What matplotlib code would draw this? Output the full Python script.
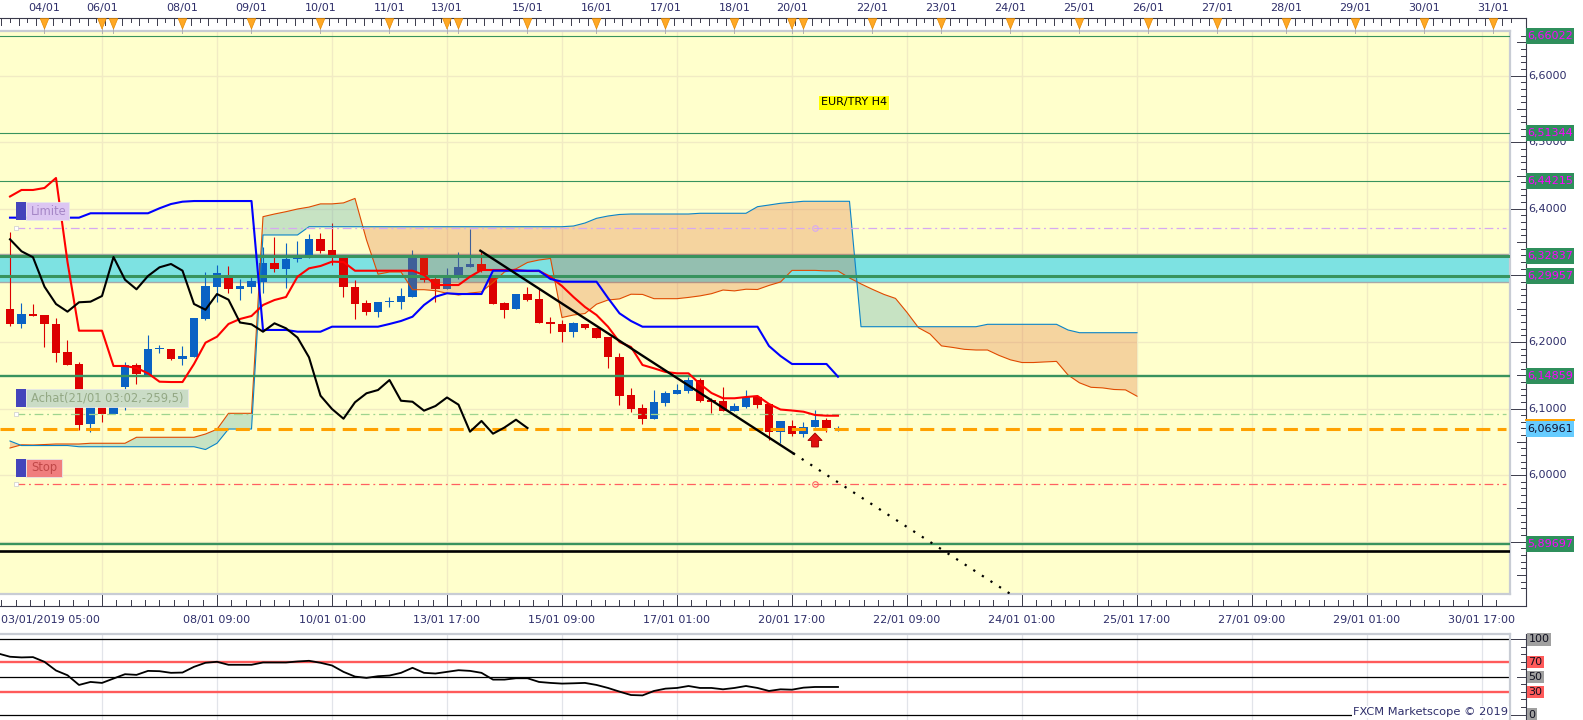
import numpy as np
import matplotlib
matplotlib.use("Agg")
import matplotlib.pyplot as plt
from matplotlib.transforms import Affine2D, blended_transform_factory
from matplotlib.patches import Rectangle, Polygon
from matplotlib.lines import Line2D

plt.rcParams['font.family'] = ['DejaVu Sans']

# ---------------- data (EUR/TRY H4) ----------------
opens = [6.2495, 6.2270, 6.2415, 6.2405, 6.2265, 6.1845, 6.1669, 6.0763, 6.1028, 6.0918,
         6.1328, 6.1654, 6.1504, 6.1887, 6.1894, 6.1739, 6.1779, 6.2345, 6.2830, 6.2981,
         6.2800, 6.2830, 6.2906, 6.3181, 6.3096, 6.3241, 6.3272, 6.3542, 6.3381, 6.3276,
         6.2830, 6.2580, 6.2455, 6.2596, 6.2605, 6.2680, 6.3276, 6.2941, 6.2800, 6.2971,
         6.3121, 6.3171, 6.2983, 6.2580, 6.2490, 6.2720, 6.2641, 6.2295, 6.2265, 6.2154,
         6.2265, 6.2205, 6.2079, 6.1774, 6.1203, 6.1008, 6.0847, 6.1088, 6.1218, 6.1268,
         6.1428, 6.1128, 6.1113, 6.0968, 6.1028, 6.1178, 6.1064, 6.0652, 6.0737, 6.0617,
         6.0715, 6.0832, 6.0690]
highs = [6.3656, 6.2580, 6.2570, 6.2405, 6.2355, 6.2029, 6.1704, 6.1028, 6.1028, 6.1028,
         6.1704, 6.1679, 6.2105, 6.1954, 6.1900, 6.1939, 6.2355, 6.3056, 6.3156, 6.3141,
         6.2941, 6.2981, 6.3431, 6.3581, 6.3482, 6.3524, 6.3626, 6.3637, 6.3782, 6.3276,
         6.2931, 6.2630, 6.2605, 6.2675, 6.2806, 6.3381, 6.3276, 6.2971, 6.3106, 6.3356,
         6.3692, 6.3356, 6.2983, 6.2605, 6.2720, 6.2830, 6.2791, 6.2370, 6.2330, 6.2305,
         6.2270, 6.2205, 6.2079, 6.1829, 6.1303, 6.1068, 6.1278, 6.1263, 6.1364, 6.1478,
         6.1454, 6.1153, 6.1328, 6.1083, 6.1278, 6.1203, 6.1064, 6.0813, 6.0835, 6.0797,
         6.0978, 6.0865, 6.0730]
lows = [6.2244, 6.2214, 6.2390, 6.1920, 6.1704, 6.1654, 6.0677, 6.0652, 6.0803, 6.0918,
        6.0978, 6.1364, 6.1504, 6.1829, 6.1735, 6.1654, 6.1779, 6.2330, 6.2605, 6.2731,
        6.2630, 6.2731, 6.2731, 6.3051, 6.2806, 6.3201, 6.3261, 6.3336, 6.3156, 6.2671,
        6.2345, 6.2405, 6.2370, 6.2518, 6.2490, 6.2680, 6.2901, 6.2605, 6.2800, 6.2941,
        6.3121, 6.3056, 6.2570, 6.2355, 6.2490, 6.2620, 6.2292, 6.2130, 6.2004, 6.2070,
        6.2200, 6.2060, 6.1604, 6.1053, 6.0953, 6.0763, 6.0847, 6.1043, 6.1218, 6.1228,
        6.1102, 6.0928, 6.0968, 6.0968, 6.1003, 6.1008, 6.0532, 6.0478, 6.0592, 6.0577,
        6.0715, 6.0640, 6.0655]
closes = [6.2265, 6.2420, 6.2390, 6.2265, 6.1839, 6.1659, 6.0753, 6.1028, 6.0914, 6.1028,
          6.1654, 6.1514, 6.1894, 6.1902, 6.1739, 6.1789, 6.2355, 6.2841, 6.3031, 6.2795,
          6.2841, 6.2916, 6.3181, 6.3091, 6.3246, 6.3281, 6.3542, 6.3362, 6.3272, 6.2830,
          6.2570, 6.2455, 6.2596, 6.2605, 6.2690, 6.3276, 6.2935, 6.2791, 6.2991, 6.3121,
          6.3171, 6.3071, 6.2570, 6.2484, 6.2720, 6.2635, 6.2292, 6.2265, 6.2154, 6.2280,
          6.2205, 6.2066, 6.1769, 6.1193, 6.0993, 6.0847, 6.1094, 6.1229, 6.1278, 6.1428,
          6.1117, 6.1102, 6.0968, 6.1038, 6.1166, 6.1058, 6.0652, 6.0813, 6.0622, 6.0715,
          6.0832, 6.0707, 6.06961]

tenkan = [6.4185, 6.4283, 6.4283, 6.4313, 6.4463, 6.3201, 6.2169, 6.2169, 6.2169, 6.1639,
          6.1639, 6.1609, 6.1529, 6.1403, 6.1398, 6.1398, 6.1669, 6.1989, 6.2079, 6.2270,
          6.2345, 6.2390, 6.2555, 6.2630, 6.2675, 6.2980, 6.3106, 6.3141, 6.3206, 6.3201,
          6.3070, 6.3070, 6.3070, 6.3070, 6.3070, 6.3070, 6.3006, 6.2855, 6.2855, 6.2855,
          6.2980, 6.3081, 6.3081, 6.3081, 6.3081, 6.3066, 6.3066, 6.2976, 6.2840, 6.2675,
          6.2525, 6.2405, 6.2229, 6.1999, 6.1924, 6.1654, 6.1604, 6.1549, 6.1529, 6.1529,
          6.1368, 6.1233, 6.1154, 6.1154, 6.1173, 6.1188, 6.1068, 6.0985, 6.0970, 6.0952,
          6.0903, 6.0892, 6.0892]
kijun = [6.3867, 6.3867, 6.3867, 6.3867, 6.3867, 6.3867, 6.3867, 6.3933, 6.3933, 6.3933,
         6.3933, 6.3933, 6.3933, 6.4008, 6.4072, 6.4107, 6.4117, 6.4117, 6.4117, 6.4117,
         6.4117, 6.4117, 6.2180, 6.2180, 6.2180, 6.2154, 6.2154, 6.2154, 6.2229, 6.2229,
         6.2229, 6.2229, 6.2229, 6.2270, 6.2315, 6.2379, 6.2555, 6.2680, 6.2731, 6.2720,
         6.2720, 6.2720, 6.3070, 6.3070, 6.3070, 6.3070, 6.3070, 6.2946, 6.2905, 6.2905,
         6.2905, 6.2905, 6.2660, 6.2430, 6.2315, 6.2229, 6.2229, 6.2229, 6.2229, 6.2229,
         6.2229, 6.2229, 6.2229, 6.2229, 6.2229, 6.2229, 6.1939, 6.1789, 6.1669, 6.1669,
         6.1669, 6.1669, 6.1478]
senkou_a = [6.0407, 6.0455, 6.0452, 6.0459, 6.0467, 6.0467, 6.0467, 6.0478, 6.0478, 6.0478,
            6.0478, 6.0568, 6.0568, 6.0568, 6.0568, 6.0568, 6.0568, 6.0617, 6.0688, 6.0928,
            6.0928, 6.0928, 6.3882, 6.3922, 6.3957, 6.3997, 6.4026, 6.4074, 6.4074, 6.4089,
            6.4156, 6.3533, 6.3018, 6.3051, 6.3051, 6.2785, 6.2785, 6.2770, 6.2731, 6.2705,
            6.2735, 6.2752, 6.2893, 6.3052, 6.3098, 6.3194, 6.3231, 6.3254, 6.2367, 6.2405,
            6.2427, 6.2567, 6.2630, 6.2647, 6.2717, 6.2714, 6.2650, 6.2650, 6.2650, 6.2669,
            6.2692, 6.2725, 6.2780, 6.2767, 6.2792, 6.2788, 6.2849, 6.2901, 6.3075, 6.3075,
            6.3075, 6.3067, 6.3067, 6.2961, 6.2872, 6.2790, 6.2714, 6.2654, 6.2444, 6.2214,
            6.2120, 6.1941, 6.1917, 6.1889, 6.1879, 6.1879, 6.1798, 6.1731, 6.1691, 6.1691,
            6.1700, 6.1708, 6.1504, 6.1386, 6.1319, 6.1310, 6.1286, 6.1280, 6.1185]
senkou_b = [6.0512, 6.0444, 6.0444, 6.0444, 6.0444, 6.0444, 6.0426, 6.0426, 6.0426, 6.0426,
            6.0426, 6.0426, 6.0426, 6.0426, 6.0426, 6.0426, 6.0426, 6.0384, 6.0478, 6.0692,
            6.0692, 6.0692, 6.3607, 6.3607, 6.3607, 6.3607, 6.3731, 6.3731, 6.3731, 6.3731,
            6.3731, 6.3731, 6.3731, 6.3731, 6.3731, 6.3731, 6.3731, 6.3731, 6.3731, 6.3731,
            6.3731, 6.3731, 6.3731, 6.3731, 6.3731, 6.3731, 6.3731, 6.3731, 6.3731, 6.3742,
            6.3787, 6.3857, 6.3892, 6.3915, 6.3922, 6.3922, 6.3922, 6.3922, 6.3922, 6.3922,
            6.3933, 6.3933, 6.3933, 6.3933, 6.3933, 6.4032, 6.4057, 6.4083, 6.4098, 6.4113,
            6.4113, 6.4113, 6.4113, 6.4113, 6.2229, 6.2229, 6.2229, 6.2229, 6.2229, 6.2229,
            6.2229, 6.2229, 6.2229, 6.2229, 6.2229, 6.2265, 6.2265, 6.2265, 6.2265, 6.2265,
            6.2265, 6.2265, 6.2180, 6.2139, 6.2139, 6.2139, 6.2139, 6.2139, 6.2139]
chikou_shift = 26

rsi_start = -1
rsi = [81.0, 76.8, 75.9, 76.3, 70.0, 58.5, 52.2, 39.3, 43.3, 42.0, 47.8,
       53.6, 52.7, 58.0, 57.6, 55.4, 55.8, 63.4, 68.8, 70.1, 66.1,
       66.1, 66.1, 69.2, 69.2, 69.2, 70.5, 71.4, 68.8, 65.2, 56.7,
       50.4, 48.7, 50.9, 51.8, 55.4, 62.1, 55.4, 54.5, 56.7, 58.9,
       58.0, 55.4, 46.4, 46.4, 48.2, 48.2, 43.3, 42.0, 41.1, 41.5,
       42.0, 39.3, 35.3, 30.4, 25.9, 25.4, 31.3, 34.4, 35.3, 37.9,
       35.3, 35.3, 33.5, 35.3, 37.9, 35.3, 31.3, 33.5, 33.0, 35.7,
       36.6, 36.6, 36.6]
rsi_levels = [100, 70, 50, 30, 0]

green_levels = [6.66022, 6.51344, 6.44215, 6.32837, 6.29957, 6.14859, 5.89697]
green_labels = ['6,66022', '6,51344', '6,44215', '6,32837', '6,29957', '6,14859', '5,89697']
black_level = 5.8864
zone_low, zone_high = 6.2905, 6.3321
current_price = 6.06961
current_label = '6,06961'
limit_price, entry_price, stop_price = 6.3707, 6.0913, 5.9862
order_bar = 70
entry_text = 'Achat(21/01 03:02,-259,5)'
trend_bars = [40.9, 68.1]
trend_prices = [6.3371, 6.0328]

price_ticks = [5.9, 6.0, 6.1, 6.2, 6.3, 6.4, 6.5, 6.6]
price_tick_labels = ['5,9000', '6,0000', '6,1000', '6,2000', '6,3000', '6,4000', '6,5000', '6,6000']

day_bars = [3, 8, 15, 21, 27, 33, 38, 45, 51, 57, 63, 68, 75, 81, 87, 93, 99, 105, 111, 117, 123, 129]
day_labels = ['04/01', '06/01', '08/01', '09/01', '10/01', '11/01', '13/01', '15/01', '16/01',
              '17/01', '18/01', '20/01', '22/01', '23/01', '24/01', '25/01', '26/01', '27/01',
              '28/01', '29/01', '30/01', '31/01']
extra_day_bars = [9, 39, 69]

time_bars = [18, 28, 38, 48, 58, 68, 78, 88, 98, 108, 118, 128]
time_labels = ['08/01 09:00', '10/01 01:00', '13/01 17:00', '15/01 09:00', '17/01 01:00',
               '20/01 17:00', '22/01 09:00', '24/01 01:00', '25/01 17:00', '27/01 09:00',
               '29/01 01:00', '30/01 17:00']
first_time_label = '03/01/2019 05:00'

# ---------------- layout ----------------
W, H = 1583, 720
P0, S = 6.71368, 0.0015022       # price at pixel row 0, price per pixel
BAR0, BARW = 10.0, 11.5          # pixel x of bar 0, pixels per bar
MAIN_TOP, MAIN_BOT, PANEL_R = 31, 594, 1510
AXIS_X = 1525.7
TOP_AX_Y, BOT_AX_Y = 18.3, 606
RSI_TOP = 634

def price_at(y):
    return P0 - S * y

NAVY = '#2E2E6A'
RED = '#DC0000'
BLUE = '#0A62C4'
GREEN_LINE = '#38935E'
GRID = '#F1EBC4'

fig = plt.figure(figsize=(W / 100, H / 100), dpi=100)
fig.patch.set_facecolor('white')
PX = Affine2D().scale(1, -1).translate(0, H)

ax = fig.add_axes([0, 1 - MAIN_BOT / H, PANEL_R / W, (MAIN_BOT - MAIN_TOP) / H])
xlim = (-BAR0 / BARW, (PANEL_R - BAR0) / BARW)
ax.set_xlim(*xlim)
ax.set_ylim(price_at(MAIN_BOT), price_at(MAIN_TOP))
ax.set_facecolor('#FFFFCC')
ax.set_xticks([])
ax.set_yticks([])
ax.spines['left'].set_visible(False)
for s in ['top', 'right', 'bottom']:
    ax.spines[s].set_color('#C8CCD4')
    ax.spines[s].set_linewidth(1.6)

XB_YP = blended_transform_factory(ax.transData, PX)
XP_YD = blended_transform_factory(PX, ax.transData)

major_bars = np.arange(8, 131, 10)
for b in major_bars:
    ax.axvline(b, color=GRID, lw=1.0, zorder=0.5)
for p in price_ticks:
    ax.axhline(p, color=GRID, lw=1.0, zorder=0.5)

# resistance zone
ax.axhspan(zone_low, zone_high, color='#7DE2E2', lw=0, zorder=1)
ax.axhline(zone_low, color='#A8A8A8', lw=1.0, zorder=1.1)
ax.axhline(zone_high, color='#A8A8A8', lw=1.0, zorder=1.1)

# candles
o = np.array(opens); c = np.array(closes); h = np.array(highs); l = np.array(lows)
xb = np.arange(len(o))
cols = np.where(c >= o, BLUE, RED)
ax.vlines(xb, l, h, colors=cols, lw=0.8, zorder=2)
body_lo = np.minimum(o, c)
body_h = np.maximum(np.abs(c - o), 0.0012)
ax.bar(xb, body_h, width=0.7, bottom=body_lo, color=cols, lw=0, zorder=2.1)

# ichimoku cloud
xa = np.arange(len(senkou_a))
A = np.array(senkou_a); B = np.array(senkou_b)
ax.fill_between(xa, A, B, where=A >= B, interpolate=True, color=(35/255, 147/255, 172/255),
                alpha=0.25, lw=0, zorder=3)
ax.fill_between(xa, A, B, where=A < B, interpolate=True, color=(219/255, 87/255, 28/255),
                alpha=0.25, lw=0, zorder=3)
ax.plot(xa, A, color='#E04A00', lw=0.8, zorder=3.5)
ax.plot(xa, B, color='#0A84C8', lw=0.8, zorder=3.5)

# horizontal levels
green_widths = [0.8, 0.8, 0.8, 2.2, 2.2, 1.7, 1.7]
for lv, lw in zip(green_levels, green_widths):
    ax.axhline(lv, color=GREEN_LINE, lw=lw, zorder=4)
ax.axhline(black_level, color='black', lw=1.9, zorder=4)

# order lines
x_start = (16 - BAR0) / BARW
x_end = (1506 - BAR0) / BARW
ax.plot([x_start, x_end], [limit_price] * 2, color='#D6A8F2', lw=0.9,
        dashes=(7, 3, 1.5, 3), zorder=4)
ax.plot([x_start, x_end], [entry_price] * 2, color='#9ED48E', lw=0.9,
        dashes=(7, 3, 1.5, 3), zorder=4)
ax.plot([x_start, x_end], [stop_price] * 2, color='#FF6060', lw=0.9,
        dashes=(7, 3, 1.5, 3), zorder=4)
ax.plot([order_bar], [limit_price], 'o', mfc='none', mec='#D6A8F2', ms=4, mew=0.8, zorder=4)
ax.plot([order_bar], [stop_price], 'o', mfc='none', mec='#FF6060', ms=4, mew=0.8, zorder=4)
for pr in [limit_price, entry_price, stop_price]:
    ax.plot([x_start], [pr], 's', mfc='white', mec='#CCCCCC', ms=3, mew=0.5, zorder=4.2)

# current price
ax.plot([xlim[0], x_end], [current_price] * 2, color='#FFA000', lw=2.2,
        dashes=(4.6, 2.4), zorder=4.5)

# ichimoku lines
ax.plot(xb, tenkan, color='#FF0000', lw=1.5, zorder=5)
ax.plot(xb, kijun, color='#0000FF', lw=1.5, zorder=5)
chik = closes[chikou_shift:len(closes) - 1]
ax.plot(np.arange(len(chik)), chik, color='black', lw=1.5, zorder=5)

# trend line + extension
slope = (trend_prices[1] - trend_prices[0]) / (trend_bars[1] - trend_bars[0])
ax.plot(trend_bars, trend_prices, color='black', lw=1.7, zorder=6)
ext_b = trend_bars[1] + 40
ax.plot([trend_bars[1], ext_b], [trend_prices[1], trend_prices[1] + slope * 40],
        color='black', lw=1.6, dashes=(1.0, 3.6), zorder=6)

# buy arrow under order bar
tip = lows[order_bar] - 5.5 * S
hb, sb = tip - 7.5 * S, tip - 14 * S
arrow = Polygon([[order_bar, tip], [order_bar + 0.62, hb], [order_bar + 0.3, hb],
                 [order_bar + 0.3, sb], [order_bar - 0.3, sb], [order_bar - 0.3, hb],
                 [order_bar - 0.62, hb]], closed=True, fc='#E01010', ec='#A00000',
                lw=0.6, zorder=7)
ax.add_patch(arrow)

# ---- left order labels ----
def order_label(y0, text, box_fc, text_col, width):
    fig.add_artist(Rectangle((16, y0), 10, 18, transform=PX, fc='#4444BB', ec='none', zorder=8))
    fig.add_artist(Rectangle((26, y0), width, 18, transform=PX, fc=box_fc, ec='#E8E8E8',
                             lw=0.6, zorder=8))
    fig.text(31, y0 + 9.5, text, transform=PX, ha='left', va='center', fontsize=8.3,
             color=text_col, zorder=9)

order_label(202, 'Limite', '#DCC6F2', '#A586C6', 43)
order_label(388.5, entry_text, '#CADCC6', '#93A884', 162)
order_label(458.5, 'Stop', '#F07E7E', '#C04848', 36)

fig.text(854, 102.5, 'EUR/TRY H4', transform=PX, ha='center', va='center', fontsize=8,
         color='black', zorder=9,
         bbox=dict(boxstyle='square,pad=0.18', fc='#FFFF00', ec='none'))

# ---- axes frame lines ----
AX_COL = '#3A3A4A'
fig.add_artist(Line2D([0, AXIS_X], [TOP_AX_Y, TOP_AX_Y], transform=PX, color=AX_COL, lw=0.8, zorder=5))
fig.add_artist(Line2D([0, AXIS_X], [BOT_AX_Y, BOT_AX_Y], transform=PX, color=AX_COL, lw=0.8, zorder=5))
fig.add_artist(Line2D([AXIS_X, AXIS_X], [TOP_AX_Y, BOT_AX_Y], transform=PX, color=AX_COL, lw=0.8, zorder=5))

# top date axis
for k, t in enumerate(np.arange(-0.75, 131, 0.75)):
    ln = 6.5 if k % 2 == 0 else 3.5
    fig.add_artist(Line2D([t, t], [TOP_AX_Y, TOP_AX_Y + ln], transform=XB_YP,
                          color=AX_COL, lw=0.7, zorder=5))
for b in day_bars + extra_day_bars:
    fig.add_artist(Line2D([b, b], [28, 33], transform=XB_YP, color='#B0B0B0', lw=0.7, zorder=5))
    fig.add_artist(Polygon([[b - 0.37, TOP_AX_Y + 0.3], [b + 0.37, TOP_AX_Y + 0.3], [b, 29]],
                           closed=True, transform=XB_YP, fc='#FFA824', ec='#E58A00',
                           lw=0.5, zorder=6))
for b, s in zip(day_bars, day_labels):
    fig.text(b, 8.5, s, transform=XB_YP, ha='center', va='center', fontsize=8,
             color=NAVY, zorder=6)

# bottom time axis
for t in np.arange(-0.75, 130.5, 1.25):
    if abs((t - 8) % 10) < 1e-6:
        continue
    fig.add_artist(Line2D([t, t], [BOT_AX_Y - 6, BOT_AX_Y], transform=XB_YP,
                          color=AX_COL, lw=0.7, zorder=5))
for b in major_bars:
    fig.add_artist(Line2D([b, b], [BOT_AX_Y - 11, BOT_AX_Y], transform=XB_YP,
                          color=AX_COL, lw=0.7, zorder=5))
for b, s in zip(time_bars, time_labels):
    fig.text(b, 620, s, transform=XB_YP, ha='center', va='center', fontsize=8,
             color=NAVY, zorder=6)
fig.text(1, 620, first_time_label, transform=PX, ha='left', va='center', fontsize=8,
         color=NAVY, zorder=6)

# right price axis
for k in range(583, 667):
    pr = k / 100
    x0 = 1511 if k % 10 == 0 else (1517 if k % 5 == 0 else 1520.5)
    fig.add_artist(Line2D([x0, AXIS_X], [pr, pr], transform=XP_YD, color=AX_COL, lw=0.7, zorder=5))
for pr, s in zip(price_ticks, price_tick_labels):
    # labels fully covered by a level box are not visible in the chart
    if min(abs(pr - lv) for lv in green_levels) < 5 * S:
        continue
    fig.text(1528, pr, s, transform=XP_YD, ha='left', va='center', fontsize=8,
             color=NAVY, zorder=5)
for lv, s in zip(green_levels, green_labels):
    fig.add_artist(Rectangle((1526, lv - 8 * S), 48, 16 * S, transform=XP_YD,
                             fc='#2F8F5C', ec='none', zorder=6))
    fig.text(1550, lv, s, transform=XP_YD, ha='center', va='center', fontsize=8,
             color='#FF00FF', zorder=7)
fig.add_artist(Rectangle((1526, current_price - 8 * S), 48, 16.7 * S, transform=XP_YD,
                         fc='#66CCFF', ec='none', zorder=6))
fig.add_artist(Line2D([1526, 1574], [current_price + 8.7 * S] * 2, transform=XP_YD,
                      color='#FFA000', lw=1.4, zorder=6.5))
fig.text(1550, current_price, current_label, transform=XP_YD, ha='center', va='center',
         fontsize=8, color='#101030', zorder=7)

# ---------------- RSI panel ----------------
axr = fig.add_axes([0, 0, PANEL_R / W, (H - RSI_TOP) / H])
axr.set_xlim(*xlim)
r100, r0 = 639.3, 714.5
rs = (r0 - r100) / 100.0
axr.set_ylim(-(H - r0) / rs, 100 + (r100 - RSI_TOP) / rs)
axr.set_facecolor('white')
axr.set_xticks([]); axr.set_yticks([])
axr.spines['left'].set_visible(False)
axr.spines['bottom'].set_visible(False)
for s in ['top', 'right']:
    axr.spines[s].set_color('#C8CCD4')
    axr.spines[s].set_linewidth(1.6)
for b in major_bars:
    axr.axvline(b, color='#E2E4EA', lw=0.9, zorder=0.5)
for lv in rsi_levels:
    if lv in (70, 30):
        axr.axhline(lv, color='#FF5A5A', lw=1.7, zorder=1)
    else:
        axr.axhline(lv, color='black', lw=0.9, zorder=1)
axr.plot(np.arange(rsi_start, rsi_start + len(rsi)), rsi, color='black', lw=1.3, zorder=2)

XP_YR = blended_transform_factory(PX, axr.transData)
fig.add_artist(Line2D([AXIS_X, AXIS_X], [RSI_TOP, H], transform=PX, color=AX_COL, lw=0.8, zorder=5))
for v in range(0, 101, 10):
    x0 = 1511 if v in (0, 100) else (1517 if v == 50 else 1520.5)
    fig.add_artist(Line2D([x0, AXIS_X], [v, v], transform=XP_YR, color=AX_COL, lw=0.7, zorder=5))
for lv in rsi_levels:
    fc = '#FF5A5A' if lv in (70, 30) else '#A0A0A0'
    fig.text(1528.5, lv, str(lv), transform=XP_YR, ha='left', va='center', fontsize=8,
             color='#101020', zorder=7,
             bbox=dict(boxstyle='square,pad=0.12', fc=fc, ec='none'))

fig.text(1508, 712, 'FXCM Marketscope \u00a9 2019', transform=PX, ha='right', va='center',
         fontsize=8.2, color=NAVY, zorder=7,
         bbox=dict(boxstyle='square,pad=0.1', fc='white', ec='none'))

fig.savefig('out.png', dpi=100, facecolor='white')
